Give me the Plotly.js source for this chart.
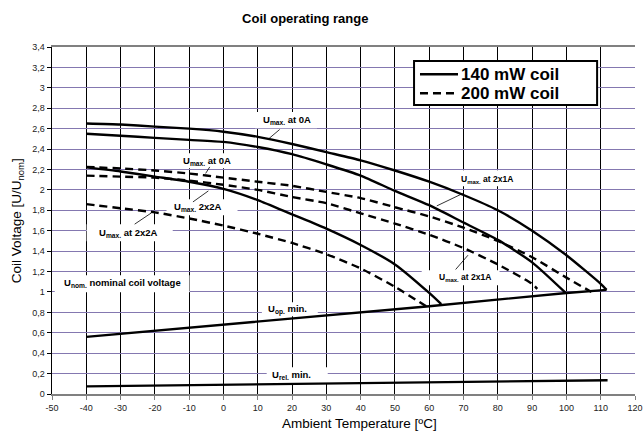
<!DOCTYPE html>
<html>
<head>
<meta charset="utf-8">
<script src="https://cdn.plot.ly/plotly-3.0.1.min.js"></script>
<style>html,body{margin:0;padding:0;background:#fff;}#chart{width:644px;height:433px;}</style>
</head>
<body>
<div id="chart"></div>
<script>
// ---- data ----
const tA = [-40,-30,-20,-10,0,10,20,30,40,50,60,70,80,90,100,110,111.7];
const u140_0A = [2.65,2.64,2.62,2.60,2.57,2.52,2.45,2.37,2.29,2.19,2.08,1.95,1.80,1.60,1.36,1.08,1.02];

const tB = [-40,-30,-20,-10,0,10,20,30,40,50,60,70,80,90,99.8];
const u140_2x1A = [2.55,2.53,2.51,2.49,2.47,2.42,2.35,2.25,2.14,1.99,1.85,1.68,1.51,1.29,0.99];

const tC = [-40,-30,-20,-10,0,10,20,30,40,50,60,63.5];
const u140_2x2A = [2.22,2.18,2.13,2.08,2.01,1.90,1.76,1.62,1.46,1.27,0.99,0.88];

const tD1 = [-40,-30,-20,-10,0,10,20,30,40,50,60,70,80,90,100,107.3];
const u200_0A = [2.225,2.21,2.19,2.16,2.12,2.08,2.04,1.98,1.92,1.83,1.74,1.63,1.50,1.34,1.14,1.0];

const tD2 = [-40,-30,-20,-10,0,10,20,30,40,50,60,70,80,90,91.5];
const u200_2x1A = [2.14,2.13,2.12,2.09,2.05,2.00,1.93,1.87,1.77,1.67,1.56,1.43,1.27,1.08,1.03];

const tD3 = [-40,-30,-20,-10,0,10,20,30,40,50,60];
const u200_2x2A = [1.86,1.82,1.78,1.72,1.65,1.57,1.48,1.37,1.23,1.05,0.84];

const tOp = [-40,-20,30,60,100,111.7];
const uOpMin = [0.56,0.62,0.77,0.86,0.99,1.02];

const tRel = [-40,112];
const uRelMin = [0.075,0.135];

const xTickVals = [-50,-40,-30,-20,-10,0,10,20,30,40,50,60,70,80,90,100,110,120];
const xTickText = ['-50','-40','-30','-20','-10','0','10','20','30','40','50','60','70','80','90','100','110','120'];
const yTickVals = [0,0.2,0.4,0.6,0.8,1,1.2,1.4,1.6,1.8,2,2.2,2.4,2.6,2.8,3,3.2,3.4];
const yTickText = ['0','0,2','0,4','0,6','0,8','1','1,2','1,4','1,6','1,8','2','2,2','2,4','2,6','2,8','3','3,2','3,4'];

const legendNames = ['140 mW coil','200 mW coil'];

// ---- styles ----
const LW = 2.4;
const DASH = '8px,5px';
const solid = {color:'#000', width:LW, shape:'spline', smoothing:0.6};
const dashed = {color:'#000', width:LW, dash:DASH, shape:'spline', smoothing:0.6};
const straight = {color:'#000', width:LW};

const traces = [
  {x:tA, y:u140_0A, mode:'lines', line:solid, name:legendNames[0], hoverinfo:'skip'},
  {x:tD1, y:u200_0A, mode:'lines', line:dashed, name:legendNames[1], hoverinfo:'skip'},
  {x:tB, y:u140_2x1A, mode:'lines', line:solid, hoverinfo:'skip'},
  {x:tC, y:u140_2x2A, mode:'lines', line:solid, hoverinfo:'skip'},
  {x:tD2, y:u200_2x1A, mode:'lines', line:dashed, hoverinfo:'skip'},
  {x:tD3, y:u200_2x2A, mode:'lines', line:dashed, hoverinfo:'skip'},
  {x:tOp, y:uOpMin, mode:'lines', line:straight, hoverinfo:'skip'},
  {x:tRel, y:uRelMin, mode:'lines', line:straight, hoverinfo:'skip'}
];

// label boxes (white, hiding gridlines) in data units
const boxes = [
  [9.2,27.3,2.605,2.762],
  [-13.9,3.6,2.213,2.36],
  [-16.6,4.1,1.752,1.909],
  [-39.9,-14.8,1.497,1.664],
  [-49.2,-9.9,0.997,1.164],
  [11.2,27.5,0.762,0.899],
  [12.6,30.4,0.105,0.262],
  [63.0,89.8,2.036,2.193],
  [57.8,80.5,1.066,1.213]
];
const shapes = boxes.map(b => ({type:'rect', xref:'x', yref:'y', x0:b[0], x1:b[1], y0:b[2], y1:b[3],
  fillcolor:'#fff', line:{width:0}, layer:'between'}));

// pointer lines
const pointers = [
  [16.4,2.592,13.3,2.504],
  [-4.0,2.225,-5.2,2.161],
  [-8.9,1.882,-4.4,1.99],
  [-25.9,1.664,-21.0,1.775],
  [69.8,1.965,62.2,1.843],
  [67.7,1.22,71.3,1.36]
];
pointers.forEach(p => shapes.push({type:'line', xref:'x', yref:'y', x0:p[0], y0:p[1], x1:p[2], y1:p[3],
  line:{color:'#000', width:0.8}, layer:'above'}));

// legend box (drawn by hand to match the reference's compact box)
shapes.push({type:'rect', xref:'paper', yref:'paper', x0:0.621, x1:0.935, y0:0.833, y1:0.960,
  fillcolor:'#fff', line:{color:'#000', width:2}, layer:'above'});
const legRows = [0.9213, 0.8666];
shapes.push({type:'line', xref:'paper', yref:'paper', x0:0.6312, x1:0.6964, y0:legRows[0], y1:legRows[0],
  line:{color:'#000', width:LW}, layer:'above'});
shapes.push({type:'line', xref:'paper', yref:'paper', x0:0.6312, x1:0.6964, y0:legRows[1], y1:legRows[1],
  line:{color:'#000', width:LW, dash:DASH}, layer:'above'});

const lblFont = {family:'Liberation Sans, Arial, sans-serif', size:8.5, color:'#000'};
const lblFont2 = {family:'Liberation Sans Narrow, Liberation Sans, Arial, sans-serif', size:9.5, color:'#000'};
function lab(x, y, text, f){ return {x:x, y:y, xref:'x', yref:'y', text:'<b>'+text+'</b>', showarrow:false, font:f, xanchor:'center', yanchor:'middle'}; }

const annotations = [
  lab(18.4,2.683,'U<sub>max.</sub> at 0A', lblFont2),
  lab(-4.9,2.281,'U<sub>max.</sub> at 0A', lblFont2),
  lab(-7.5,1.83,'U<sub>max.</sub> 2x2A', lblFont2),
  lab(-27.6,1.575,'U<sub>max.</sub> at 2x2A', lblFont2),
  lab(-29.4,1.085,'U<sub>nom.</sub> nominal coil voltage', lblFont2),
  lab(18.7,0.83,'U<sub>op.</sub> min.', lblFont2),
  lab(19.9,0.183,'U<sub>rel.</sub> min.', lblFont2),
  lab(76.7,2.105,'U<sub>max.</sub> at 2x1A', lblFont),
  lab(70.3,1.144,'U<sub>max.</sub> at 2x1A', lblFont),
  {xref:'paper', yref:'paper', x:0.6981, y:legRows[0], text:'<b>'+legendNames[0]+'</b>', showarrow:false,
   font:{family:'Liberation Sans, Arial, sans-serif', size:17, color:'#000'}, xanchor:'left', yanchor:'middle'},
  {xref:'paper', yref:'paper', x:0.6981, y:legRows[1], text:'<b>'+legendNames[1]+'</b>', showarrow:false,
   font:{family:'Liberation Sans, Arial, sans-serif', size:17, color:'#000'}, xanchor:'left', yanchor:'middle'},
  {xref:'paper', yref:'paper', x:0.527, y:-0.084, text:'Ambient Temperature [ºC]', showarrow:false,
   font:{family:'Liberation Sans, Arial, sans-serif', size:13.5, color:'#000'}, xanchor:'center', yanchor:'middle'},
  {xref:'paper', yref:'paper', x:-0.0588, y:0.5, text:'Coil Voltage [U/U<sub>nom</sub>]', showarrow:false, textangle:-90,
   font:{family:'Liberation Sans, Arial, sans-serif', size:13.5, color:'#000'}, xanchor:'center', yanchor:'middle'}
];

const layout = {
  width:644, height:433,
  margin:{l:52, r:9, t:47, b:39},
  paper_bgcolor:'#fff', plot_bgcolor:'#fff',
  title:{text:'<b>Coil operating range</b>', font:{family:'Liberation Sans, Arial, sans-serif', size:13, color:'#000'},
    x:0.474, xref:'container', xanchor:'center', y:0.958, yref:'container', yanchor:'middle'},
  xaxis:{range:[-50,120], tickvals:xTickVals, ticktext:xTickText, showgrid:true, gridcolor:'#000', gridwidth:1,
    zeroline:false, showline:true, linecolor:'#808080', linewidth:2, mirror:true, ticks:'outside', ticklen:4, tickcolor:'#808080',
    tickfont:{family:'Liberation Sans, Arial, sans-serif', size:9, color:'#222'}, fixedrange:true},
  yaxis:{range:[0,3.4], tickvals:yTickVals, ticktext:yTickText, showgrid:true, gridcolor:'#8478b0', gridwidth:1,
    zeroline:false, showline:true, linecolor:'#000', linewidth:1.5, ticks:'outside', ticklen:4, tickcolor:'#000',
    tickfont:{family:'Liberation Sans, Arial, sans-serif', size:9, color:'#222'}, fixedrange:true},
  shapes:shapes,
  annotations:annotations,
  showlegend:false
};

Plotly.newPlot('chart', traces, layout, {displayModeBar:false, staticPlot:true});
</script>
</body>
</html>
